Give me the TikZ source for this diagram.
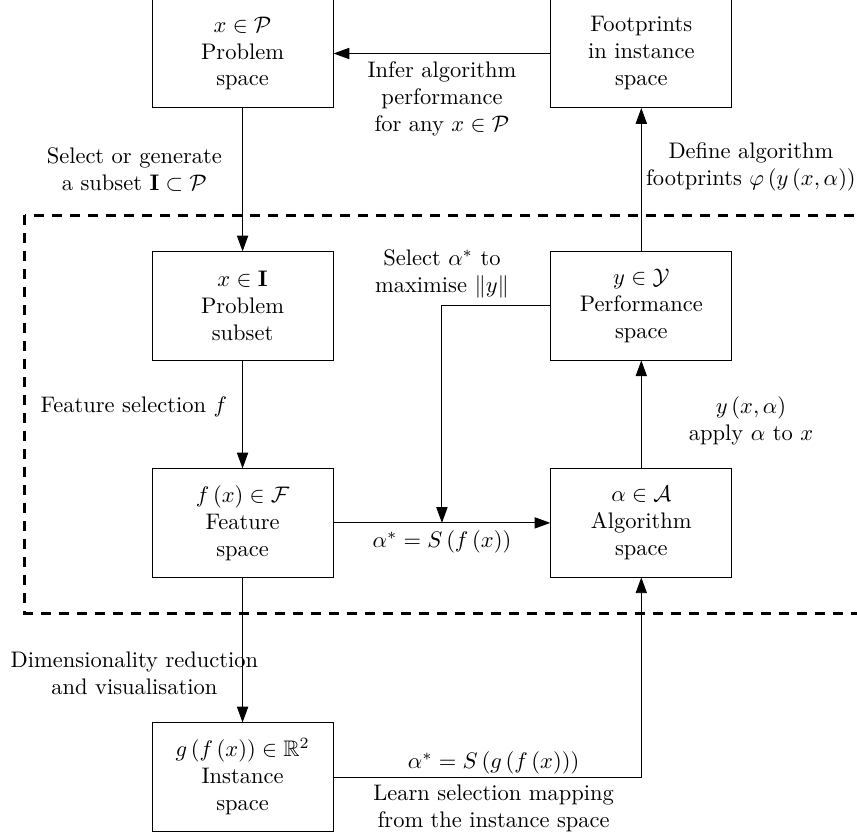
\documentclass[tikz,border=0pt]{standalone}
\usepackage{amsmath, amssymb}
\usetikzlibrary{arrows.meta, calc}
\tikzset{
  box/.style={draw, minimum width=2.83cm, minimum height=1.69cm, align=center},
  arr/.style={-{Triangle[length=7pt,width=5pt]}},
  lbl/.style={align=center}
}

\begin{document}
\begin{tikzpicture}
      \useasboundingbox (0,0) rectangle (13.39,-13.06);
      \clip (0,0) rectangle (13.39,-13.06);

      % the part inside the loop
      \draw[line width=1.3pt, dash pattern=on 4.5pt off 3.5pt] (0.39,-3.36) rectangle (14,-9.58);

      \node[box] (prob) at (3.79,-0.836) {$x\in\mathcal{P}$\\Problem\\space};
      \node[box] (foot) at (10.02,-0.836) {Footprints\\in instance\\space};
      \node[box] (subset) at (3.79,-4.78) {$x\in\mathbf{I}$\\Problem\\subset};
      \node[box] (perf) at (10.02,-4.78) {$y\in\mathcal{Y}$\\Performance\\space};
      \node[box] (feat) at (3.79,-8.17) {$f\left(x\right)\in\mathcal{F}$\\Feature\\space};
      \node[box] (alg) at (10.02,-8.17) {$\alpha\in\mathcal{A}$\\Algorithm\\space};
      \node[box] (inst) at (3.79,-12.14) {$g\left(f\left(x\right)\right)\in\mathbb{R}^2$\\Instance\\space};
      \coordinate (sel) at ($(feat.east)!0.5!(alg.west)$);

      \draw[arr] (foot.west) -- node[lbl, midway, below] {Infer algorithm\\performance\\for any $x\in\mathcal{P}$} (prob.east);
      \draw[arr] (prob.south) -- node[lbl, pos=0.43, left=0.2cm] {Select or generate\\a subset $\mathbf{I}\subset\mathcal{P}$} (subset.north);
      \draw[arr] (perf.north) -- node[lbl, pos=0.59, right, xshift=-0.05cm] {Define algorithm\\footprints $\varphi\left(y\left(x,\alpha\right)\right)$} (foot.south);
      \draw[arr] (subset.south) -- node[lbl, pos=0.43, left=0.12cm] {Feature selection $f$} (feat.north);
      \draw[arr] (alg.north) -- node[lbl, pos=0.44, right=0.62cm] {$y\left(x,\alpha\right)$\\apply $\alpha$ to $x$} (perf.south);
      \draw[arr] (feat.east) -- node[lbl, midway, below] {$\alpha^{*}=S\left(f\left(x\right)\right)$} (alg.west);
      \draw[arr] (perf.west) -| node[lbl, pos=0.5, above] {Select $\alpha^{*}$ to\\maximise $\|y\|$} (sel);
      \draw[arr] (feat.south) -- node[lbl, pos=0.66, xshift=-1.69cm] {Dimensionality reduction\\and visualisation} (inst.north);
      \draw[arr] (inst.east) -| node[lbl, pos=0.26, above, inner sep=1pt] {$\alpha^{*}=S\left(g\left(f\left(x\right)\right)\right)$}
        node[lbl, pos=0.26, below] {Learn selection mapping\\from the instance space} (alg.south);
\end{tikzpicture}
\end{document}
